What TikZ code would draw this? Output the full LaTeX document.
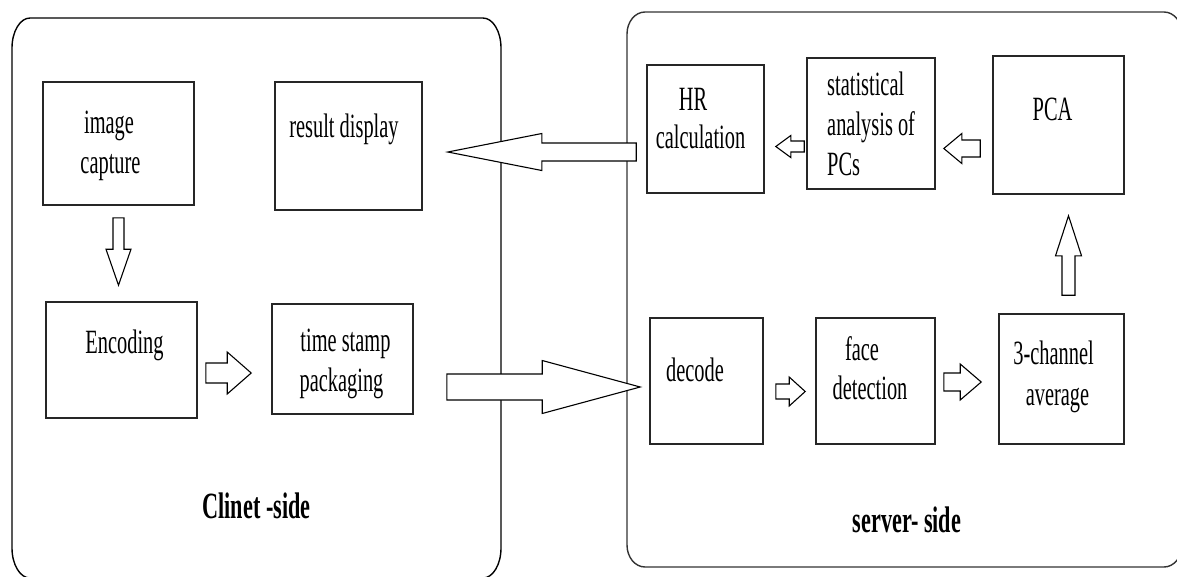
\documentclass[tikz,border=0pt]{standalone}
\usepackage{fontspec}
\setmainfont[FakeStretch=0.6]{Liberation Serif}
\usetikzlibrary{calc}

\tikzset{
  stage/.style={draw=black!85, line width=1.6pt, inner sep=0pt},
  lbl/.style={inner sep=0pt, anchor=base, font=\fontsize{34}{40}\selectfont},
  lblw/.style={lbl, anchor=base west},
  side/.style={inner sep=0pt, anchor=base, font=\fontsize{37}{44}\selectfont\bfseries},
  frame/.style={draw=black, line width=1.4pt},
  flow/.style={draw=black, line width=1.1pt, fill=white, line join=miter},
}

% processing stage: name, left, top, right, bottom
\newcommand\stagebox[5]{%
  \node[stage, minimum width={#4-#2}, minimum height={#5-#3}]
    (#1) at ({(#2+#4)/2},{(#3+#5)/2}) {};}

% horizontal block arrow: tail, tip, shaft half width, head half width, head length
\newcommand\harrow[5]{%
  \draw[flow] let \p1=(#1), \p2=(#2), \n1={sign(\x2-\x1)*#5} in
    ({\x1},{\y1+#3pt}) -- ({\x2-\n1},{\y1+#3pt}) -- ({\x2-\n1},{\y1+#4pt})
    -- ({\x2},{\y1}) -- ({\x2-\n1},{\y1-#4pt}) -- ({\x2-\n1},{\y1-#3pt})
    -- ({\x1},{\y1-#3pt}) -- cycle;}

% vertical block arrow: tail, tip, shaft half width, head half width, head length
\newcommand\varrow[5]{%
  \draw[flow] let \p1=(#1), \p2=(#2), \n1={sign(\y2-\y1)*#5} in
    ({\x1+#3pt},{\y1}) -- ({\x1+#3pt},{\y2-\n1}) -- ({\x1+#4pt},{\y2-\n1})
    -- ({\x1},{\y2}) -- ({\x1-#4pt},{\y2-\n1}) -- ({\x1-#3pt},{\y2-\n1})
    -- ({\x1-#3pt},{\y1}) -- cycle;}

\begin{document}
\begin{tikzpicture}[x=1pt, y=-1pt]
\useasboundingbox (0,0) rectangle (1177,576);
\clip (0,0) rectangle (1177,576);

% client and server frames
\draw[frame] (12,48) arc[start angle=180, end angle=270, x radius=18, y radius=30]
  -- (483,18) arc[start angle=270, end angle=360, x radius=18, y radius=30]
  -- (501,548) arc[start angle=0, end angle=90, x radius=18, y radius=30]
  -- (30,578) arc[start angle=90, end angle=180, x radius=18, y radius=30] -- cycle;
\draw[frame, draw=black!80] (627,34) arc[start angle=180, end angle=270, x radius=18, y radius=22]
  -- (1164,12) arc[start angle=270, end angle=360, x radius=18, y radius=22]
  -- (1182,545) arc[start angle=0, end angle=90, x radius=18, y radius=22]
  -- (645,567) arc[start angle=90, end angle=180, x radius=18, y radius=22] -- cycle;

% client-side stages
\stagebox{img}{43}{82}{194}{205}
\stagebox{res}{275}{82}{422}{210}
\stagebox{enc}{46}{302}{197}{418}
\stagebox{ts}{272}{304}{413}{414}

% server-side stages
\stagebox{hr}{647}{65}{764}{193}
\stagebox{stat}{807}{58}{935}{189}
\stagebox{pca}{993}{56}{1124}{194}
\stagebox{dec}{650}{318}{763}{444}
\stagebox{face}{816}{318}{935}{444}
\stagebox{ch3}{999}{314}{1124}{444}

% stage labels
\node[lbl] (img-a) at (109,133) {image};
\node[lbl] (img-b) at (110.5,173) {capture};
\node[lbl] (res-a) at (344,137) {result display};
\node[lbl] (enc-a) at (124.5,353) {Encoding};
\node[lbl] (ts-a) at (345.5,351) {time stamp};
\node[lbl] (ts-b) at (341.5,391) {packaging};
\node[lbl] (hr-a) at (693,110) {HR};
\node[lbl] (hr-b) at (700.5,148) {calculation};
\node[lblw] (stat-a) at (827,95) {statistical};
\node[lblw] (stat-b) at (827,135) {analysis of};
\node[lblw] (stat-c) at (827,175) {PCs};
\node[lbl] (pca-a) at (1052.5,120) {PCA};
\node[lbl] (dec-a) at (695,381) {decode};
\node[lbl] (face-a) at (862,360) {face};
\node[lbl] (face-b) at (870,399) {detection};
\node[lbl] (ch3-a) at (1053.5,364) {3-channel};
\node[lbl] (ch3-b) at (1057.5,405) {average};

% side captions
\node[side] (client) at (256.5,518) {Clinet -side};
\node[side] (server) at (907,532) {server- side};

% arrow end points
\coordinate (a1s) at ($(hr.west)+(-10,23)$);
\coordinate (a1e) at ($(res.east)+(25,6)$);
\coordinate (a2s) at ($(ts.east)+(33,28)$);
\coordinate (a2e) at ($(dec.west)+(-9,6)$);
\coordinate (a3s) at ($(enc.east)+(8,13)$);
\coordinate (a3e) at ($(ts.west)+(-20,14)$);
\coordinate (a4s) at ($(img.south)+(0,12)$);
\coordinate (a4e) at ($(enc.north)+(-3,-16)$);
\coordinate (a5s) at ($(stat.west)+(-2,23)$);
\coordinate (a5e) at ($(hr.east)+(11,17.5)$);
\coordinate (a6s) at ($(pca.west)+(-12,23.5)$);
\coordinate (a6e) at ($(stat.east)+(8,25)$);
\coordinate (a7s) at ($(ch3.north)+(7,-18)$);
\coordinate (a7e) at ($(pca.south)+(10,21)$);
\coordinate (a8s) at ($(dec.east)+(12,10.5)$);
\coordinate (a8e) at ($(face.west)+(-10,10.5)$);
\coordinate (a9s) at ($(face.east)+(8,1)$);
\coordinate (a9e) at ($(ch3.west)+(-17,3)$);

% data flow
\harrow{a1s}{a1e}{9}{18.5}{94}
\harrow{a2s}{a2e}{13}{26.5}{98}
\harrow{a3s}{a3e}{10}{21}{24}
\varrow{a4s}{a4e}{5.5}{12.5}{36}
\harrow{a5s}{a5e}{5.5}{11}{15}
\harrow{a6s}{a6e}{8.5}{15}{18}
\varrow{a7s}{a7e}{6.5}{13}{40}
\harrow{a8s}{a8e}{7.5}{14.5}{16}
\harrow{a9s}{a9e}{9}{18}{21}
\end{tikzpicture}
\end{document}
